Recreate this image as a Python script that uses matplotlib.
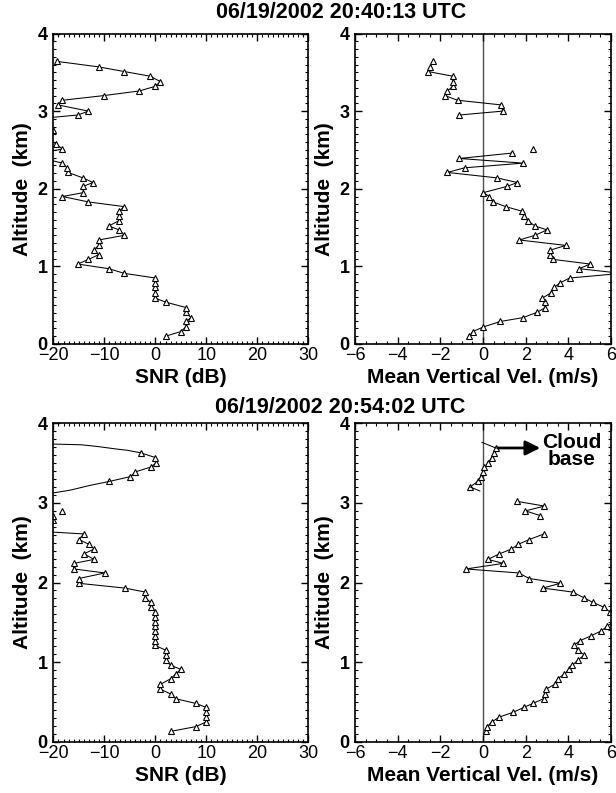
import matplotlib
matplotlib.use('Agg')
import matplotlib.pyplot as plt
import numpy as np
from matplotlib.ticker import MultipleLocator

plt.rcParams['font.family'] = ['Liberation Sans', 'DejaVu Sans']

# range gates (km)
alt_top = [0.10, 0.16, 0.22, 0.29, 0.34, 0.41, 0.47, 0.54, 0.59, 0.66,
           0.73, 0.79, 0.85, 0.91, 0.97, 1.03, 1.09, 1.15, 1.21, 1.27,
           1.34, 1.40, 1.47, 1.52, 1.59, 1.65, 1.71, 1.77, 1.83, 1.90,
           1.95, 2.03, 2.08, 2.14, 2.21, 2.27, 2.33, 2.39, 2.46, 2.51,
           2.58, 2.64, 2.70, 2.76, 2.83, 2.89, 2.95, 3.00, 3.08, 3.14,
           3.20, 3.26, 3.32, 3.38, 3.45, 3.51, 3.57, 3.64]
alt_bot = [0.13, 0.19, 0.25, 0.31, 0.37, 0.43, 0.48, 0.54, 0.60, 0.66,
           0.72, 0.79, 0.85, 0.91, 0.96, 1.03, 1.09, 1.15, 1.21, 1.27,
           1.33, 1.39, 1.45, 1.51, 1.57, 1.63, 1.69, 1.75, 1.81, 1.88,
           1.93, 1.99, 2.05, 2.12, 2.17, 2.24, 2.29, 2.36, 2.42, 2.48,
           2.54, 2.61, 2.67, 2.73, 2.79, 2.84, 2.90, 2.96, 3.02, 3.08,
           3.14, 3.20, 3.27, 3.33, 3.39, 3.45, 3.50, 3.57, 3.63, 3.69]

nan = np.nan

# 20:40:13 UTC
snr_top = [2.0, 5.0, 6.0, 6.0, 7.0, 6.0, 6.0, 2.0, 0.0, 0.0,
           0.0, 0.0, 0.0, -6.1, -9.1, -15.2, -13.1, -11.1, -12.1, -11.1,
           -11.1, -6.1, -7.1, -9.1, -7.1, -7.1, -7.1, -6.1, -13.1, -18.2,
           -14.1, -14.2, -12.2, -14.2, -17.1, -17.3, -18.2, -22.0, -23.0, -18.2,
           -19.5, -21.0, -30.0, -20.0, -30.0, -25.0, -15.2, -13.1, -19.1, -18.2,
           -10.1, -3.1, 0.0, 1.0, -1.0, -6.1, -11.1, -19.2]
vel_top = [-0.64, -0.48, 0.02, 0.81, 1.88, 2.55, 2.92, 2.92, 2.78, 3.19,
           3.34, 3.63, 4.06, 6.5, 4.5, 5.03, 3.28, 3.13, 3.16, 3.89,
           1.70, 2.44, 3.0, 2.44, 2.09, 1.94, 1.84, 1.06, 0.47, 0.30,
           0.02, 1.12, 1.61, 0.66, -1.67, -0.86, 1.88, -1.11, 1.38, 2.36,
           nan, nan, nan, nan, nan, nan, -1.11, 0.92, 0.86, -1.19,
           -1.78, -1.67, -1.41, -1.41, -1.42, -2.58, -2.47, -2.36]
vel_top_lone = [39]

# 20:54:02 UTC
snr_bot = [3.0, 8.0, 10.0, 10.0, 10.0, 10.0, 8.0, 4.0, 3.0, 1.0,
           1.0, 3.0, 4.0, 5.0, 3.0, 2.0, 2.0, 2.0, 0.0, 0.0,
           0.0, 0.0, 0.0, 0.0, 0.0, 0.0, -0.9, -0.9, -2.0, -2.0,
           -6.0, -15.0, -15.0, -9.9, -16.0, -16.0, -12.0, -14.0, -12.0, -13.0,
           -15.0, -14.0, -30.0, nan, -20.0, -20.0, -18.2, nan, nan, nan,
           nan, nan, -9.0, -4.9, -3.9, -0.9, 0.1, 0.0, -2.9, nan]
snr_bot_lone = [46]
vel_bot = [0.13, 0.19, 0.42, 0.77, 1.42, 1.91, 2.33, 2.84, 2.89, 2.95,
           3.36, 3.5, 3.81, 4.05, 4.18, 4.47, 4.75, 4.44, 4.25, 4.56,
           5.06, 5.53, 5.82, 6.12, 6.2, 5.95, 5.67, 5.14, 4.72, 4.2,
           2.8, 3.63, 2.17, 1.67, -0.8, 0.95, 0.23, 0.77, 1.33, 1.66,
           2.17, 2.86, nan, nan, nan, 2.69, 1.99, 2.88, 1.58, nan,
           nan, -0.6, -0.25, -0.1, 0.0, 0.05, 0.25, 0.4, 0.5, 0.6]

# unmarked line pieces running off the ends of the segments
snr_bot_tail1 = ([-2.9, -5.4, -8.0, -11.5, -14.5, -20.5], [3.63, 3.66, 3.68, 3.71, 3.73, 3.74])
snr_bot_tail2 = ([-9.0, -12.8, -16.7, -20.5], [3.27, 3.22, 3.16, 3.12])
vel_bot_tail1 = ([0.6, -0.05], [3.69, 3.76])
vel_bot_tail2 = ([-0.6, -0.15], [3.20, 3.15])

titles = ['06/19/2002 20:40:13 UTC', '06/19/2002 20:54:02 UTC']

W, H = 616, 793
fig = plt.figure(figsize=(W / 100, H / 100), dpi=100)


def add_ax(x0, x1, y0, y1):
    return fig.add_axes([x0 / W, 1 - y1 / H, (x1 - x0) / W, (y1 - y0) / H])


def profile(ax, vals, alts, lone=()):
    line = np.array(vals, float)
    line[list(lone)] = np.nan
    ax.plot(line, alts, color='k', lw=0.75)
    ax.plot(vals, alts, ls='none', marker='^', ms=5, mfc='white', mec='k', mew=0.8)


def style(ax, xlim, major, minor, xlabel):
    ax.set_xlim(xlim)
    ax.set_ylim(0, 4)
    ax.xaxis.set_major_locator(MultipleLocator(major))
    ax.xaxis.set_minor_locator(MultipleLocator(minor))
    ax.set_yticks([0, 1, 2, 3, 4], labels=['0', '1', '2', '3', '4'], fontweight='bold')
    ax.yaxis.set_minor_locator(MultipleLocator(0.1))
    ax.tick_params(which='both', direction='in', top=True, right=True, labelsize=13)
    ax.tick_params(which='major', length=5, width=1)
    ax.tick_params(which='minor', length=2.5, width=0.8)
    ax.tick_params(axis='x', pad=2.5)
    ax.tick_params(axis='y', pad=4)
    for s in ax.spines.values():
        s.set_linewidth(1.2)
    ax.set_xlabel(xlabel, fontsize=15, fontweight='bold', labelpad=2.5)
    ax.set_ylabel('Altitude  (km)', fontsize=15, fontweight='bold', labelpad=4)


ax1 = add_ax(53.3, 308.3, 33.5, 344)
ax2 = add_ax(355, 611, 33.5, 344)
ax3 = add_ax(53.3, 308.3, 423.3, 741.7)
ax4 = add_ax(355, 611, 423.3, 741.7)

profile(ax1, snr_top, alt_top)
profile(ax2, vel_top, alt_top, vel_top_lone)
profile(ax3, snr_bot, alt_bot, snr_bot_lone)
profile(ax4, vel_bot, alt_bot)

for tail in (snr_bot_tail1, snr_bot_tail2):
    ax3.plot(tail[0], tail[1], color='k', lw=0.75)
for tail in (vel_bot_tail1, vel_bot_tail2):
    ax4.plot(tail[0], tail[1], color='k', lw=0.75)

for ax in (ax1, ax3):
    style(ax, (-20, 30), 10, 1, 'SNR (dB)')
for ax in (ax2, ax4):
    ax.axvline(0, color='0.3', lw=1, zorder=1)
    style(ax, (-6, 6), 2, 0.5, 'Mean Vertical Vel. (m/s)')

ax4.annotate('', xy=(2.68, 3.69), xytext=(0.69, 3.69),
             arrowprops=dict(arrowstyle='-|>', color='k', lw=2, mutation_scale=22,
                             shrinkA=0, shrinkB=0))
ax4.text(4.15, 3.655, 'Cloud\nbase', ha='center', va='center', fontsize=15,
         fontweight='bold', linespacing=0.85)

fig.text(341.5 / W, 1 - 13 / H, titles[0], ha='center', va='center',
         fontsize=15.5, fontweight='bold')
fig.text(340 / W, 1 - 407 / H, titles[1], ha='center', va='center',
         fontsize=15.5, fontweight='bold')

fig.savefig('out.png', dpi=100)
